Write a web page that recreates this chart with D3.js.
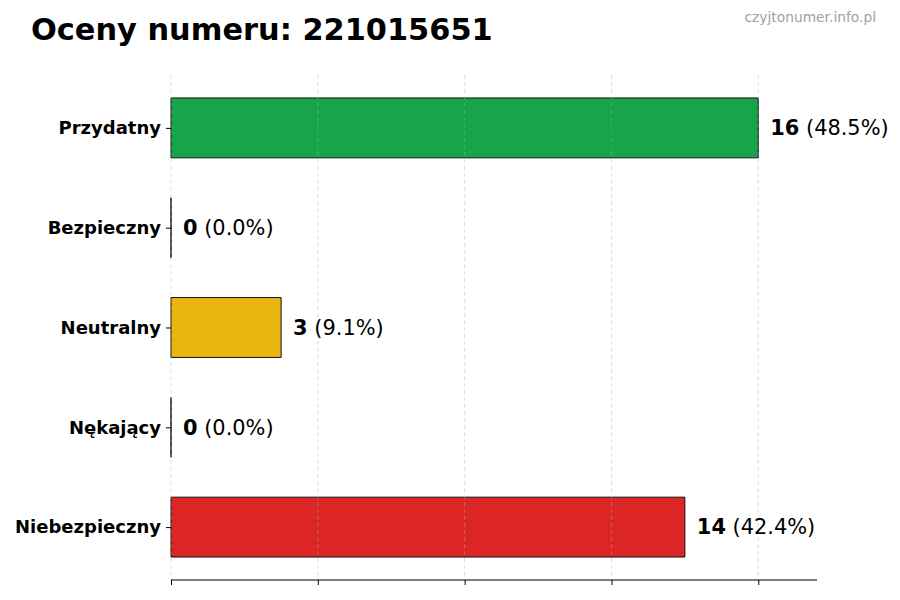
<!DOCTYPE html>
<html>
<head>
<meta charset="utf-8">
<script src="https://cdn.jsdelivr.net/npm/d3@7"></script>
<style>
  body { margin: 0; background: #fff; }
  svg { font-family: "DejaVu Sans", sans-serif; }
</style>
</head>
<body>
<div id="chart"></div>
<script>
// rating categories, top to bottom
var categories = ["Przydatny", "Bezpieczny", "Neutralny", "Nękający", "Niebezpieczny"]
var counts = [16, 0, 3, 0, 14]
var percents = ["48.5", "0.0", "9.1", "0.0", "42.4"]
var barColors = ["#17a44a", "#9ca3af", "#eab50c", "#6b7280", "#dc2626"]
var xTicks = [0, 4, 8, 12, 16]

var width = 900, height = 600
var plot = { left: 171, right: 817, top: 75, bottom: 580 }

var svg = d3.select("#chart")
    .append("svg")
    .attr("width", width)
    .attr("height", height)

var x = d3.scaleLinear()
    .domain([0, d3.max(counts) * 1.1])
    .range([plot.left, plot.right])

// bars are 0.6 wide on an index axis, with 5% margin like matplotlib
var y = d3.scaleLinear()
    .domain([-0.53, categories.length - 1 + 0.53])
    .range([plot.top, plot.bottom])
var barH = y(0.6) - y(0)

// title + watermark
svg.append("text")
    .attr("x", 31)
    .attr("y", 40)
    .attr("font-size", 30.4)
    .attr("font-weight", "bold")
    .text("Oceny numeru: 221015651")

svg.append("text")
    .attr("x", 876)
    .attr("y", 22)
    .attr("text-anchor", "end")
    .attr("font-size", 13.8)
    .attr("fill", "#a0a0a0")
    .text("czyjtonumer.info.pl")

// bars as outlined paths, so a zero count still leaves its edge line
var bars = svg.append("g")
bars.selectAll("path")
    .data(counts)
    .enter()
    .append("path")
    .attr("d", function(d, i) {
        var y0 = y(i) - barH / 2
        return "M" + x(0) + "," + y0 + "H" + x(d) + "V" + (y0 + barH) + "H" + x(0) + "Z"
    })
    .attr("fill", function(d, i) { return barColors[i] })
    .attr("stroke", "#111")
    .attr("stroke-width", 1)

// dashed vertical grid, drawn over the bars
svg.append("g")
    .selectAll("line")
    .data(xTicks)
    .enter()
    .append("line")
    .attr("x1", function(d) { return x(d) })
    .attr("x2", function(d) { return x(d) })
    .attr("y1", plot.top)
    .attr("y2", plot.bottom)
    .attr("stroke", "#b0b0b0")
    .attr("stroke-opacity", 0.5)
    .attr("stroke-dasharray", "4,3")
    .attr("stroke-width", 0.8)

// bottom axis: ticks only, no labels
var xAxis = svg.append("g")
    .attr("transform", "translate(0," + plot.bottom + ")")
    .call(d3.axisBottom(x).tickValues(xTicks).tickSize(5).tickFormat(""))
xAxis.select(".domain").attr("stroke", "#000").attr("d", "M" + plot.left + ",0H" + plot.right)
xAxis.selectAll(".tick line").attr("stroke", "#000")

// left category labels with tick marks, no spine
var yAxis = svg.append("g")
    .attr("transform", "translate(" + plot.left + ",0)")
    .call(d3.axisLeft(y)
        .tickValues(d3.range(categories.length))
        .tickSize(5)
        .tickPadding(5)
        .tickFormat(function(i) { return categories[i] }))
yAxis.select(".domain").remove()
yAxis.selectAll(".tick line").attr("stroke", "#000")
yAxis.selectAll(".tick text")
    .attr("font-family", "DejaVu Sans")
    .attr("font-size", 18)
    .attr("font-weight", "bold")
    .attr("fill", "#000")

// value labels: bold count + regular percent
var labels = svg.append("g")
    .selectAll("text")
    .data(counts)
    .enter()
    .append("text")
    .attr("x", function(d) { return x(d) + 12 })
    .attr("y", function(d, i) { return y(i) })
    .attr("dy", "0.35em")
    .attr("font-size", 20.9)
labels.append("tspan")
    .attr("font-weight", "bold")
    .text(function(d) { return d })
labels.append("tspan")
    .text(function(d, i) { return " (" + percents[i] + "%)" })
</script>
</body>
</html>
